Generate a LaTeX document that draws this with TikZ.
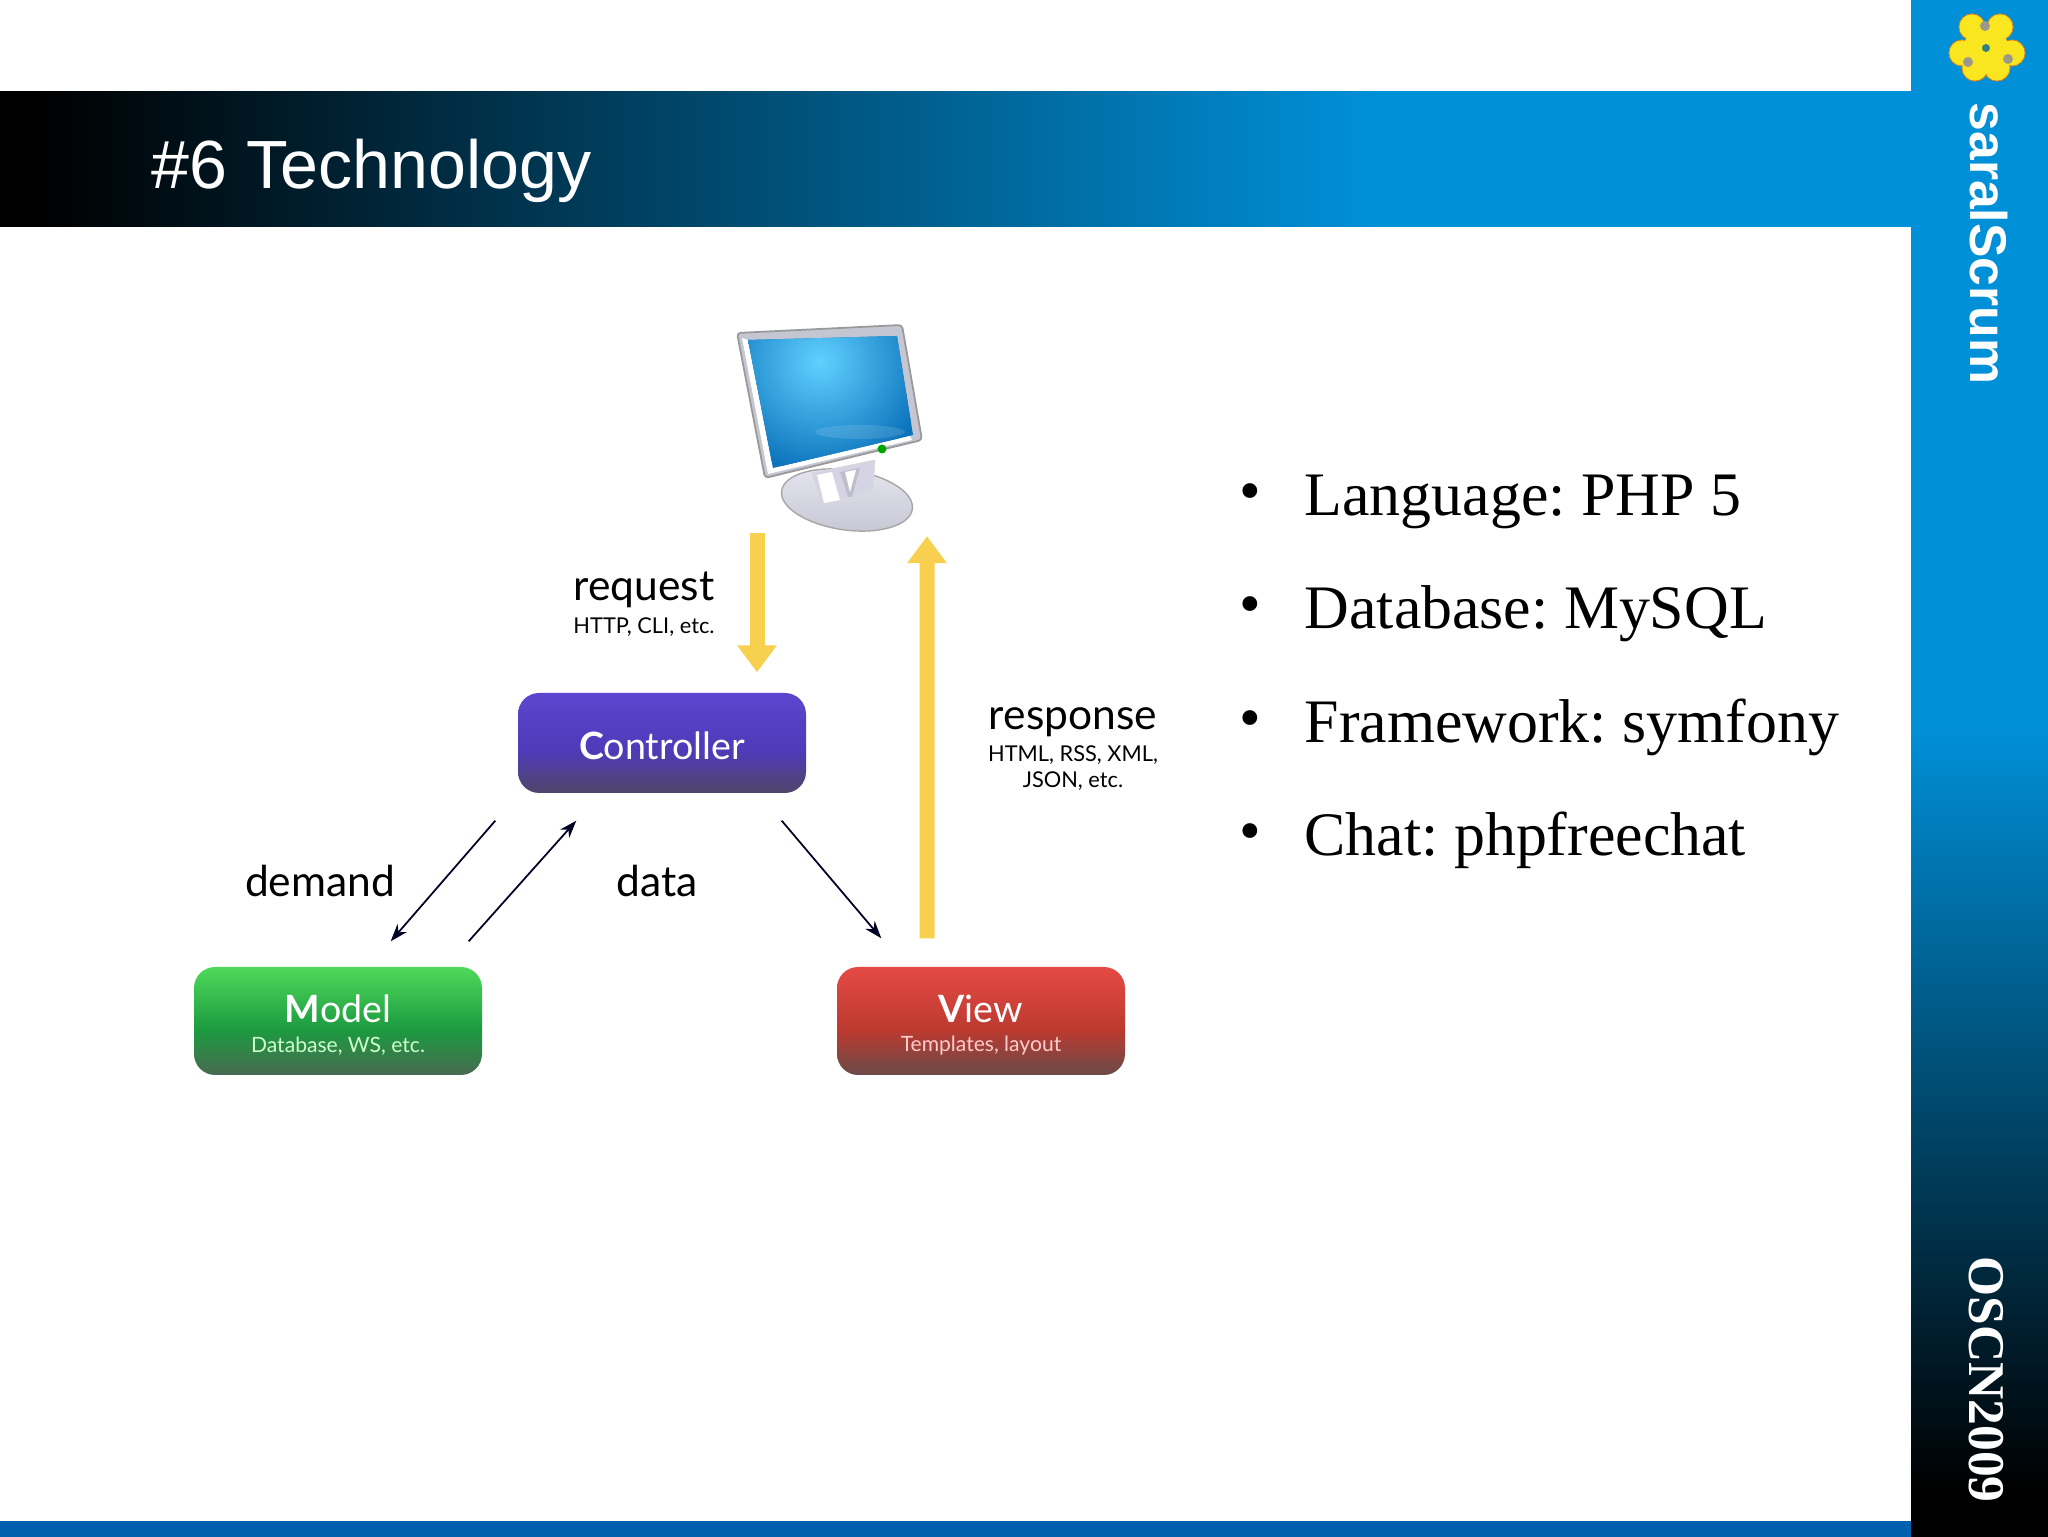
\documentclass[tikz,border=0pt]{standalone}
\usepackage{fontspec}
\usetikzlibrary{arrows.meta}
\setmainfont{Liberation Serif}
\newfontfamily\headfont{Liberation Sans}
\newfontfamily\mvcfont{Lato}
\frenchspacing
\definecolor{bandblue}{HTML}{0090D8}
\definecolor{footblue}{HTML}{0060B0}
\definecolor{arrowyellow}{HTML}{F8D050}
\definecolor{petalyellow}{HTML}{FAE61E}
\definecolor{framegrey}{HTML}{C4C6D2}
\definecolor{standgrey}{HTML}{D4D4E4}
\definecolor{screenblue}{HTML}{0C74BC}
\definecolor{screenglow}{HTML}{60D0FF}
\definecolor{ctrltop}{HTML}{5B46CF}
\definecolor{ctrlmid}{HTML}{4F3AB8}
\definecolor{ctrlend}{HTML}{4F4668}
\definecolor{modeltop}{HTML}{4FD95A}
\definecolor{modelmid}{HTML}{1C9A40}
\definecolor{modelend}{HTML}{486A52}
\definecolor{viewtop}{HTML}{E54A45}
\definecolor{viewmid}{HTML}{BC3A30}
\definecolor{viewend}{HTML}{6A4A48}
\pgfdeclarehorizontalshading{headershade}{100bp}{color(0bp)=(black); color(26bp)=(black); color(61bp)=(bandblue); color(100bp)=(bandblue)}
\pgfdeclareverticalshading{bandshade}{100bp}{color(0bp)=(black); color(26.5bp)=(black); color(51.5bp)=(bandblue); color(100bp)=(bandblue)}
\pgfdeclareverticalshading{ctrlshade}{100bp}{color(0bp)=(ctrlend); color(25bp)=(ctrlend); color(46bp)=(ctrlmid); color(75bp)=(ctrltop); color(100bp)=(ctrltop)}
\pgfdeclareverticalshading{modelshade}{100bp}{color(0bp)=(modelend); color(25bp)=(modelend); color(46bp)=(modelmid); color(75bp)=(modeltop); color(100bp)=(modeltop)}
\pgfdeclareverticalshading{viewshade}{100bp}{color(0bp)=(viewend); color(25bp)=(viewend); color(46bp)=(viewmid); color(75bp)=(viewtop); color(100bp)=(viewtop)}
\tikzset{
	mvcbox/.style={rounded corners=6pt, minimum width=2.88cm, inner sep=0pt, text=white, font=\mvcfont\fontsize{10.7}{12.6}\selectfont},
	sublabel/.style={font=\mvcfont\fontsize{6.2}{7.6}\selectfont, text=black},
	boxlabel/.style={font=\mvcfont\fontsize{6}{8}\selectfont},
	mainlabel/.style={font=\mvcfont\fontsize{12.1}{14}\selectfont, text=black},
	flowarrow/.style={line width=.15cm, arrowyellow, -{Triangle[width=.38cm,length=.27cm]}},
	thinarrow/.style={line width=.5pt, black!85!blue, -{Stealth[length=5pt,width=3.5pt]}},
	bullettext/.style={anchor=base west, inner sep=0pt, font=\fontsize{17.6}{20}\selectfont},
	bulletdot/.style={font=\fontsize{17.6}{20}\selectfont},
}
\begin{document}
\begin{tikzpicture}[x=1cm,y=-1cm]
	\useasboundingbox (0,0) rectangle (20.48,15.37);
	\fill[white] (0,0) rectangle (20.48,15.37);
	\shade[shading=headershade] (0,.92) rectangle (19.11,2.27);
	\fill[footblue] (0,15.21) rectangle (19.11,15.37);
	\shade[shading=bandshade] (19.11,0) rectangle (20.48,15.37);
	\node[anchor=base west, inner sep=0pt, text=white, font=\headfont\fontsize{19.4}{22}\selectfont] (title) at (1.51,1.89) {\#6 Technology};
	\node[anchor=base west, inner sep=0pt, rotate=-90, text=white, font=\headfont\bfseries\fontsize{14.7}{17}\selectfont] (saral) at (19.70,1.02) {saralScrum};
	\node[anchor=base west, inner sep=0pt, rotate=-90, text=white, font=\bfseries\fontsize{14.65}{17}\selectfont] (oscn) at (19.69,12.56) {OSCN2009};
	\fill[petalyellow, draw=orange!70!gray, line width=.3pt] (19.72,.27) circle (.13) (20,.27) circle (.13) (19.62,.53) circle (.13) (19.75,.68) circle (.13) (20.12,.53) circle (.13) (19.97,.68) circle (.13);
	\fill[petalyellow] (19.86,.48) circle (.22) (19.72,.27) circle (.125) (20,.27) circle (.125) (19.62,.53) circle (.125) (19.75,.68) circle (.125) (20.12,.53) circle (.125) (19.97,.68) circle (.125);
	\fill[gray!90!yellow] (19.85,.26) circle (.05) (19.68,.62) circle (.05) (20.08,.59) circle (.05);
	\fill[teal!60!gray] (19.86,.48) circle (.04);
	\shade[top color=standgrey!60!white, bottom color=standgrey!85!gray, draw=gray!70, line width=.4pt] (8.47,5) ellipse [x radius=.66, y radius=.3, rotate=-8];
	\fill[standgrey, draw=gray!30, line width=.2pt] (8.12,4.73) -- (8.75,4.6) -- (8.73,4.9) -- (8.22,5.05) -- cycle;
	\fill[white] (8.17,4.75) -- (8.32,4.72) -- (8.4,5) -- (8.24,5.03) -- cycle;
	\fill[standgrey!75!gray] (8.4,4.72) -- (8.6,4.68) -- (8.52,4.97) -- (8.48,4.97) -- cycle;
	\fill[white] (8.45,4.72) -- (8.56,4.7) -- (8.5,4.92) -- cycle;
	\fill[framegrey, draw=gray!80, line width=.5pt, line join=round, rounded corners=1pt] (7.37,3.33) -- (9.02,3.25) -- (9.22,4.4) -- (7.65,4.78) -- cycle;
	\fill[white] (7.42,3.38) -- (7.48,3.4) -- (7.73,4.68) -- (9.1,4.36) -- (9.12,4.4) -- (7.68,4.74) -- cycle;
	\begin{scope}
		\clip (7.48,3.4) -- (8.97,3.36) -- (9.13,4.35) -- (7.73,4.68) -- cycle;
		\fill[screenblue] (7.4,3.3) rectangle (9.2,4.8);
		\shade[inner color=screenglow, outer color=screenblue] (8.2,3.62) circle (1.1);
		\fill[white, opacity=.12] (8.6,4.32) ellipse (.45 and .07);
	\end{scope}
	\fill[green!65!black] (8.82,4.49) circle (.045);
	\node[inner sep=0pt, minimum width=1.9cm, minimum height=2.15cm] (computer) at (8.4,4.25) {};
	\node[mvcbox, minimum height=1cm, text height=.33cm, shading=ctrlshade] (controller) at (6.62,7.43) {{\bfseries C}ontroller};
	\node[mvcbox, minimum height=1.08cm, text depth=.24cm, shading=modelshade] (model) at (3.38,10.21) {{\bfseries M}odel};
	\node[boxlabel, text=white!80!green] (modelsub) at (3.38,10.46) {Database, WS, etc.};
	\node[mvcbox, minimum height=1.08cm, text depth=.24cm, shading=viewshade] (view) at (9.81,10.21) {{\bfseries V}iew};
	\node[boxlabel, text=white!80!red] (viewsub) at (9.81,10.46) {Templates, layout};
	\node[mainlabel] (request) at (6.44,5.9) {request};
	\node[sublabel] (requestsub) at (6.44,6.27) {HTTP, CLI, etc.};
	\node[mainlabel] (response) at (10.73,7.22) {response};
	\node[sublabel, align=center] (responsesub) at (10.73,7.68) {HTML, RSS, XML,\\JSON, etc.};
	\node[mainlabel] (demand) at (3.2,8.81) {demand};
	\node[mainlabel] (data) at (6.57,8.81) {data};
	\draw[flowarrow] ([xshift=-.83cm]computer.south) -- ([xshift=.95cm,yshift=.2cm]controller.north);
	\draw[flowarrow] ([xshift=-.54cm,yshift=.28cm]view.north) -- ([xshift=.87cm,yshift=-.03cm]computer.south);
	\draw[thinarrow] ([xshift=-.22cm,yshift=-.27cm]controller.south west) -- ([xshift=-.92cm,yshift=.25cm]model.north east);
	\draw[thinarrow] ([xshift=-.14cm,yshift=.25cm]model.north east) -- ([xshift=.59cm,yshift=-.27cm]controller.south west);
	\draw[thinarrow] ([xshift=-.25cm,yshift=-.27cm]controller.south east) -- ([xshift=.45cm,yshift=.28cm]view.north west);
	\node[bulletdot] (bulleta) at (12.5,4.98) {•};
	\node[bullettext] (language) at (13.04,5.16) {Language: PHP 5};
	\node[bulletdot] (bulletb) at (12.5,6.11) {•};
	\node[bullettext] (database) at (13.04,6.29) {Database: MySQL};
	\node[bulletdot] (bulletc) at (12.5,7.25) {•};
	\node[bullettext] (framework) at (13.04,7.43) {Framework: symfony};
	\node[bulletdot] (bulletd) at (12.5,8.38) {•};
	\node[bullettext] (chat) at (13.04,8.56) {Chat: phpfreechat};
\end{tikzpicture}
\end{document}
